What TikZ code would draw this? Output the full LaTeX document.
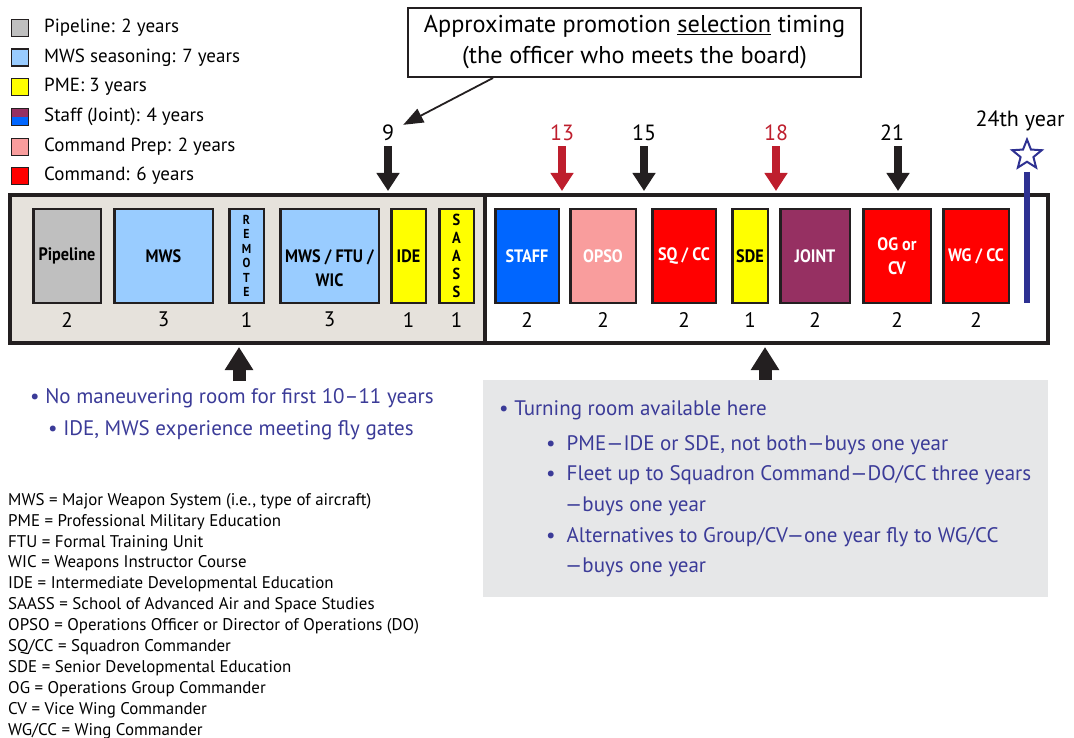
\documentclass[tikz,border=0pt]{standalone}
\usepackage{fontspec}
\setmainfont{PT Sans}
\newfontfamily\condfont[FakeStretch=0.9]{PT Sans}
\usetikzlibrary{positioning,calc,arrows.meta,shapes.geometric}

\definecolor{pipegray}{HTML}{BFBFBF}
\definecolor{mwsblue}{HTML}{99CCFF}
\definecolor{pmeyellow}{HTML}{FFFF00}
\definecolor{staffblue}{HTML}{0066FF}
\definecolor{jointpurple}{HTML}{963062}
\definecolor{preppink}{HTML}{F99D9D}
\definecolor{cmdred}{HTML}{FF0000}
\definecolor{bandgray}{HTML}{E6E2DC}
\definecolor{notegray}{HTML}{E6E7E8}
\definecolor{boardred}{HTML}{BE1E2D}
\definecolor{notenavy}{HTML}{3B3B98}
\definecolor{starnavy}{HTML}{2E3192}
\definecolor{inkblack}{HTML}{231F20}

\begin{document}
\begin{tikzpicture}[
    x=1pt, y=-1pt,
    stage/.style={draw=inkblack, line width=2.5pt, minimum height=93.5, inner sep=0, align=center,
        font=\condfont\bfseries\fontsize{18}{24}\selectfont},
    years/.style={inner sep=0, font=\fontsize{21}{24}\selectfont},
    keybox/.style={draw=inkblack, line width=1.8pt, minimum size=17, inner sep=0},
    keytext/.style={anchor=west, inner sep=0, font=\fontsize{19}{22}\selectfont},
    band/.style={draw=inkblack, line width=4.5pt},
    yearmark/.style={inner sep=0, font=\fontsize{22}{24}\selectfont},
    boardarr/.style={line width=8pt, shorten <=5pt, -{Triangle[length=18pt,width=22pt]}},
    uparr/.style={line width=13pt, inkblack, -{Triangle[length=23pt,width=27pt]}},
    callarr/.style={line width=1.8pt, inkblack, -{Triangle[length=20pt,width=15pt]}},
    notetext/.style={anchor=west, inner sep=0, text=notenavy, text height=14pt, text depth=4pt,
        font=\fontsize{21}{24}\selectfont}
]
    \useasboundingbox (0,0) rectangle (1074,738);

    % legend
    \node[keybox, fill=pipegray] (kpipe) at (20,28) {};
    \node[keybox, fill=mwsblue] (kmws) at (20,57.5) {};
    \node[keybox, fill=pmeyellow] (kpme) at (20,87) {};
    \node[keybox, fill=staffblue, path picture={\fill[jointpurple] (path picture bounding box.north west) rectangle (path picture bounding box.east);}] (kstaff) at (20,117) {};
    \node[keybox, fill=preppink] (kprep) at (20,147) {};
    \node[keybox, fill=cmdred] (kcmd) at (20,176) {};
    \node[keytext] (tpipe) at (44,28) {Pipeline: 2 years};
    \node[keytext] (tmws) at (44,57.5) {MWS seasoning: 7 years};
    \node[keytext] (tpme) at (44,87) {PME: 3 years};
    \node[keytext] (tstaff) at (44,117) {Staff (Joint): 4 years};
    \node[keytext] (tprep) at (44,147) {Command Prep: 2 years};
    \node[keytext] (tcmd) at (44,176) {Command: 6 years};

    % career band
    \draw[band, fill=bandgray] (10,195) rectangle (485,343);
    \draw[band, fill=white] (485,195) rectangle (1048,343);

    \node[stage, fill=pipegray, minimum width=67.5] (pipe) at (67,256) {Pipeline};
    \node[stage, fill=mwsblue, minimum width=98.5] (mws) at (163.5,256) {MWS};
    \node[stage, fill=mwsblue, minimum width=34.5, font=\condfont\bfseries\fontsize{13}{14.5}\selectfont] (remote) at (246.5,256) {R\\E\\M\\O\\T\\E};
    \node[stage, fill=mwsblue, minimum width=98.5, label={[yshift=-12pt, align=center, font=\condfont\bfseries\fontsize{18}{24}\selectfont]center:MWS / FTU /\\WIC}] (mwsftu) at (329.5,256) {};
    \node[stage, fill=pmeyellow, minimum width=34.5] (ide) at (408.5,256) {IDE};
    \node[stage, fill=pmeyellow, minimum width=34.5, font=\condfont\bfseries\fontsize{16}{18}\selectfont] (saass) at (456.5,256) {S\\A\\A\\S\\S};
    \node[stage, fill=staffblue, minimum width=63.5, text=white] (staff) at (527,256) {STAFF};
    \node[stage, fill=preppink, minimum width=65.5, text=white] (opso) at (603,256) {OPSO};
    \node[stage, fill=cmdred, minimum width=63.5, text=white] (sqcc) at (684,256) {SQ / CC};
    \node[stage, fill=pmeyellow, minimum width=35.5] (sde) at (750,256) {SDE};
    \node[stage, fill=jointpurple, minimum width=69.5, text=white] (joint) at (815,256) {JOINT};
    \node[stage, fill=cmdred, minimum width=67.5, text=white] (ogcv) at (897,256) {OG or\\CV};
    \node[stage, fill=cmdred, minimum width=65.5, text=white] (wgcc) at (976,256) {WG / CC};

    \node[years, below=8pt of pipe] (npipe) {2};
    \node[years, below=8pt of mws] (nmws) {3};
    \node[years, below=8pt of remote] (nremote) {1};
    \node[years, below=8pt of mwsftu] (nmwsftu) {3};
    \node[years, below=8pt of ide] (nide) {1};
    \node[years, below=8pt of saass] (nsaass) {1};
    \node[years, below=8pt of staff] (nstaff) {2};
    \node[years, below=8pt of opso] (nopso) {2};
    \node[years, below=8pt of sqcc] (nsqcc) {2};
    \node[years, below=8pt of sde] (nsde) {1};
    \node[years, below=8pt of joint] (njoint) {2};
    \node[years, below=8pt of ogcv] (nogcv) {2};
    \node[years, below=8pt of wgcc] (nwgcc) {2};

    % 24th year marker
    \node[star, star points=5, star point ratio=2.3, draw=starnavy, line width=2pt, minimum size=31, inner sep=0] (goal) at (1027,155) {};
    \node[yearmark] (goaltext) at (1020,121) {24th year};
    \coordinate (bartop) at (1027,172);
    \coordinate (barbot) at (1027,303);
    \draw[starnavy, line width=6pt] (bartop) -- (barbot);

    % promotion boards
    \node[yearmark] (b9) at (388,133) {9};
    \node[yearmark, text=boardred] (b13) at (562,133) {13};
    \node[yearmark] (b15) at (644,133) {15};
    \node[yearmark, text=boardred] (b18) at (776,133) {18};
    \node[yearmark] (b21) at (892,133) {21};
    \coordinate (b9tip) at (388,191);
    \coordinate (b13tip) at (562,191);
    \coordinate (b15tip) at (644,191);
    \coordinate (b18tip) at (776,191);
    \coordinate (b21tip) at (898,191);
    \draw[boardarr, inkblack] (b9) -- (b9tip); \draw[boardarr, boardred] (b13) -- (b13tip);
    \draw[boardarr, inkblack] (b15) -- (b15tip); \draw[boardarr, boardred] (b18) -- (b18tip);
    \draw[boardarr, inkblack] (b21.south -| b21tip) -- (b21tip);

    \node[draw=inkblack, line width=2pt, minimum width=453, minimum height=69, inner sep=0, align=center,
        font=\fontsize{24.3}{31}\selectfont] (promo) at (634.5,42.5)
        {Approximate promotion \underline{selection} timing\\(the officer who meets the board)};
    \draw[callarr] ([xshift=86pt]promo.south west) -- ([xshift=9pt]b9.north east);

    % notes below
    \coordinate (upLbase) at (239,381); \coordinate (upLtip) at (239,347);
    \coordinate (upRbase) at (765,381); \coordinate (upRtip) at (765,347);
    \draw[uparr] (upLbase) -- (upLtip);
    \draw[uparr] (upRbase) -- (upRtip);

    \node[notetext] (fixed1) at (30,398) {• No maneuvering room for first 10–11 years};
    \node[notetext] (fixed2) at (48,430) {• IDE, MWS experience meeting fly gates};

    \node[fill=notegray, minimum width=565, minimum height=217, anchor=north west, inner sep=0] (turn) at (483,380) {};
    \node[notetext] (turn0) at (499,410) {• Turning room available here};
    \node[notetext] (turn1) at (546,445) {•\hspace{11pt}PME—IDE or SDE, not both—buys one year};
    \node[notetext] (turn2) at (546,475) {•\hspace{11pt}Fleet up to Squadron Command—DO/CC three years};
    \node[notetext] (turn2b) at (565,506) {—buys one year};
    \node[notetext] (turn3) at (546,537) {•\hspace{11pt}Alternatives to Group/CV—one year fly to WG/CC};
    \node[notetext] (turn3b) at (565,567) {—buys one year};

    % glossary
    \node[anchor=north west, inner sep=0, align=left, font=\fontsize{16.9}{20.9}\selectfont] (gloss) at (8,493)
        {MWS = Major Weapon System (i.e., type of aircraft)\\
         PME = Professional Military Education\\
         FTU = Formal Training Unit\\
         WIC = Weapons Instructor Course\\
         IDE = Intermediate Developmental Education\\
         SAASS = School of Advanced Air and Space Studies\\
         OPSO = Operations Officer or Director of Operations (DO)\\
         SQ/CC = Squadron Commander\\
         SDE = Senior Developmental Education\\
         OG = Operations Group Commander\\
         CV = Vice Wing Commander\\
         WG/CC = Wing Commander};
\end{tikzpicture}
\end{document}
